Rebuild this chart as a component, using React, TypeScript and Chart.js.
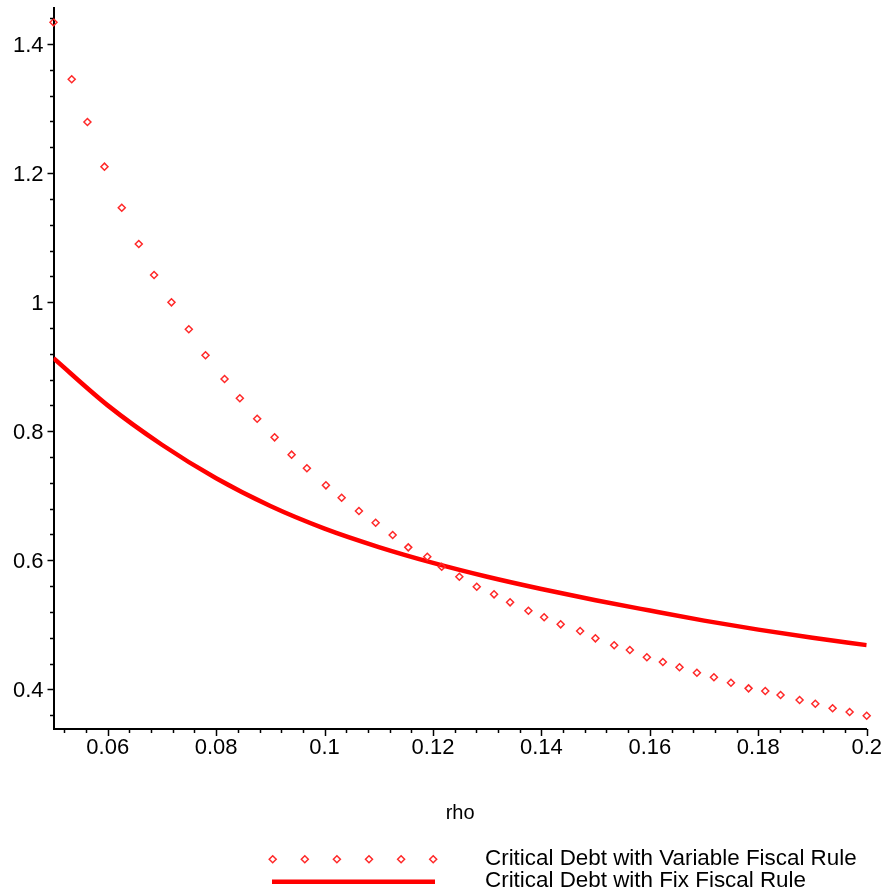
import React, { useEffect, useRef } from 'react';
import { Chart, registerables } from 'chart.js';

Chart.register(...registerables);

// ---- data ----
const VARIABLE_LABEL = 'Critical Debt with Variable Fiscal Rule';
const FIX_LABEL = 'Critical Debt with Fix Fiscal Rule';
const X_TITLE = 'rho';

const VARIABLE_RHO = [
  0.05, 0.05336, 0.05626, 0.0594, 0.06259, 0.06573, 0.06855, 0.07176, 0.07496, 0.07804,
  0.08155, 0.08437, 0.08757, 0.09078, 0.09392, 0.09674, 0.10025, 0.10315, 0.10634, 0.10942,
  0.11256, 0.11544, 0.11895, 0.12161, 0.12486, 0.12807, 0.13126, 0.13422, 0.1376, 0.1405,
  0.14355, 0.14714, 0.14996, 0.15342, 0.15631, 0.15945, 0.1624, 0.16547, 0.16868, 0.17182,
  0.17496, 0.17821, 0.18129, 0.18411, 0.18762, 0.19052, 0.19371, 0.19685, 0.2,
];
const VARIABLE_DEBT = [
  1.4336, 1.3453, 1.2791, 1.2099, 1.1463, 1.0901, 1.042, 0.9997, 0.9579, 0.9176,
  0.8809, 0.851, 0.8193, 0.7905, 0.7636, 0.7425, 0.7161, 0.6969, 0.6763, 0.6582,
  0.6391, 0.62, 0.6055, 0.59, 0.5745, 0.559, 0.5472, 0.5348, 0.5218, 0.5116,
  0.5007, 0.4903, 0.479, 0.4682, 0.4609, 0.4496, 0.4423, 0.4341, 0.4257, 0.4186,
  0.4102, 0.4015, 0.3974, 0.3912, 0.3834, 0.3777, 0.3706, 0.3648, 0.3591,
];

const FIX_RHO = [0.05, 0.06, 0.07, 0.08, 0.09, 0.1, 0.11, 0.12, 0.13, 0.14, 0.15, 0.16, 0.17, 0.18, 0.19, 0.2];
const FIX_DEBT = [0.913, 0.84, 0.779, 0.727, 0.684, 0.649, 0.6205, 0.596, 0.5745, 0.5555, 0.538, 0.522, 0.5065, 0.4925, 0.48, 0.4685];

const X_TICKS = [0.06, 0.08, 0.1, 0.12, 0.14, 0.16, 0.18, 0.2];
const X_TICK_LABELS = ['0.06', '0.08', '0.1', '0.12', '0.14', '0.16', '0.18', '0.2'];
const Y_TICKS = [0.4, 0.6, 0.8, 1, 1.2, 1.4];
const Y_TICK_LABELS = ['0.4', '0.6', '0.8', '1', '1.2', '1.4'];

const X_MIN = 0.05;
const X_MAX = 0.2;
const Y_MIN = 0.3385;
const Y_MAX = 1.4558;

const X_MINOR_START = 0.052;
const X_MINOR_STEP = 0.004;
const X_MAJOR_STEP = 0.02;
const Y_MINOR_START = 0.36;
const Y_MINOR_STEP = 0.04;
const Y_MAJOR_STEP = 0.2;

// ---- styles ----
const FONT = 'Liberation Sans, Arial, sans-serif';
const RED = '#ff0000';
const MARKER_RED = 'rgb(255,40,40)';
const W = 886;
const H = 893;

function isMajor(v: number, step: number) {
  const r = v / step;
  return Math.abs(r - Math.round(r)) < 1e-6;
}

function drawDiamond(ctx: CanvasRenderingContext2D, x: number, y: number, r: number) {
  ctx.beginPath();
  ctx.moveTo(x, y - r);
  ctx.lineTo(x + r, y);
  ctx.lineTo(x, y + r);
  ctx.lineTo(x - r, y);
  ctx.closePath();
  ctx.stroke();
}

const minorTicksPlugin = {
  id: 'mapleTicks',
  afterDraw(chart: any) {
    const { ctx } = chart;
    const xs = chart.scales.x;
    const ys = chart.scales.y;
    ctx.save();
    ctx.strokeStyle = '#000';
    ctx.lineWidth = 1.5;
    for (let i = 0; ; i++) {
      const v = X_MINOR_START + i * X_MINOR_STEP;
      if (v > X_MAX + 1e-9) break;
      const px = Math.round(xs.getPixelForValue(v)) + 0.5;
      const len = isMajor(v, X_MAJOR_STEP) ? 7 : 4;
      ctx.beginPath();
      ctx.moveTo(px, xs.top);
      ctx.lineTo(px, xs.top + len);
      ctx.stroke();
    }
    for (let i = 0; ; i++) {
      const v = Y_MINOR_START + i * Y_MINOR_STEP;
      if (v > Y_MAX + 1e-9) break;
      const py = Math.round(ys.getPixelForValue(v)) + 0.5;
      const len = isMajor(v, Y_MAJOR_STEP) ? 6 : 3.5;
      ctx.beginPath();
      ctx.moveTo(ys.right, py);
      ctx.lineTo(ys.right - len, py);
      ctx.stroke();
    }
    ctx.restore();
  },
};

const legendPlugin = {
  id: 'mapleLegend',
  afterDraw(chart: any) {
    const { ctx } = chart;
    const ds = chart.data.datasets;
    ctx.save();
    // row 1: diamonds
    ctx.strokeStyle = ds[0].borderColor;
    ctx.lineWidth = 1.5;
    for (let k = 0; k < 6; k++) {
      drawDiamond(ctx, 272.7 + k * 32.1, 859.3, 3.5);
    }
    // row 2: thick line
    ctx.strokeStyle = ds[1].borderColor;
    ctx.lineWidth = 4.5;
    ctx.beginPath();
    ctx.moveTo(272, 881.7);
    ctx.lineTo(435, 881.7);
    ctx.stroke();
    // text
    ctx.fillStyle = '#000';
    ctx.font = `22.4px ${FONT}`;
    ctx.textAlign = 'left';
    ctx.textBaseline = 'middle';
    ctx.fillText(ds[0].label, 485, 859);
    ctx.fillText(ds[1].label, 485, 880.8);
    ctx.restore();
  },
};

export default function App() {
  const canvasRef = useRef<HTMLCanvasElement | null>(null);

  useEffect(() => {
    const canvas = canvasRef.current;
    if (!canvas) return;
    const variablePoints = VARIABLE_RHO.map((x, i) => ({ x, y: VARIABLE_DEBT[i] }));
    const fixPoints = FIX_RHO.map((x, i) => ({ x, y: FIX_DEBT[i] }));

    const chart = new Chart(canvas, {
      type: 'line',
      data: {
        datasets: [
          {
            label: VARIABLE_LABEL,
            data: variablePoints,
            showLine: false,
            pointStyle: 'rectRot',
            pointRadius: 3.5,
            pointBorderWidth: 1.5,
            borderColor: MARKER_RED,
            pointBorderColor: MARKER_RED,
            pointBackgroundColor: 'rgba(255,255,255,0)',
            backgroundColor: 'rgba(255,255,255,0)',
            clip: false as any,
          },
          {
            label: FIX_LABEL,
            data: fixPoints,
            borderColor: RED,
            borderWidth: 4.5,
            pointRadius: 0,
            cubicInterpolationMode: 'monotone',
            fill: false,
          },
        ],
      },
      options: {
        responsive: false,
        animation: false,
        devicePixelRatio: 1,
        events: [],
        layout: {
          autoPadding: false,
          padding: { left: 0, top: 8, right: 19.3, bottom: 64 },
        } as any,
        plugins: {
          legend: { display: false },
          tooltip: { enabled: false },
        },
        scales: {
          x: {
            type: 'linear',
            min: X_MIN,
            max: X_MAX,
            grid: { display: false, drawTicks: false, tickLength: 0 },
            border: { display: true, color: '#000', width: 2 },
            afterBuildTicks: (scale: any) => {
              scale.ticks = X_TICKS.map((value) => ({ value }));
            },
            afterFit: (scale: any) => {
              scale.height = 100;
              scale.paddingLeft = 0;
              scale.paddingRight = 0;
              scale.paddingTop = 0;
              scale.paddingBottom = 0;
            },
            ticks: {
              autoSkip: false,
              maxRotation: 0,
              minRotation: 0,
              padding: 6,
              color: '#000',
              font: { family: FONT, size: 22 },
              callback: (v: any) => {
                const idx = X_TICKS.findIndex((t) => Math.abs(t - Number(v)) < 1e-9);
                return idx >= 0 ? X_TICK_LABELS[idx] : '';
              },
            },
            title: {
              display: true,
              text: X_TITLE,
              color: '#000',
              font: { family: FONT, size: 20 },
              padding: { top: 0, bottom: 4 },
            },
          },
          y: {
            type: 'linear',
            min: Y_MIN,
            max: Y_MAX,
            grid: { display: false, drawTicks: false, tickLength: 0 },
            border: { display: true, color: '#000', width: 2 },
            afterBuildTicks: (scale: any) => {
              scale.ticks = Y_TICKS.map((value) => ({ value }));
            },
            afterFit: (scale: any) => {
              scale.width = 53.5;
              scale.paddingLeft = 0;
              scale.paddingRight = 0;
              scale.paddingTop = 0;
              scale.paddingBottom = 0;
            },
            ticks: {
              autoSkip: false,
              padding: 10,
              labelOffset: 2,
              color: '#000',
              font: { family: FONT, size: 22 },
              callback: (v: any) => {
                const idx = Y_TICKS.findIndex((t) => Math.abs(t - Number(v)) < 1e-9);
                return idx >= 0 ? Y_TICK_LABELS[idx] : '';
              },
            },
          },
        },
      } as any,
      plugins: [minorTicksPlugin, legendPlugin],
    });

    return () => {
      chart.destroy();
    };
  }, []);

  return (
    <div style={{ position: 'fixed', left: 0, top: 0, width: W, height: H, background: '#fff' }}>
      <canvas ref={canvasRef} width={W} height={H} style={{ width: W, height: H, display: 'block' }} />
    </div>
  );
}
